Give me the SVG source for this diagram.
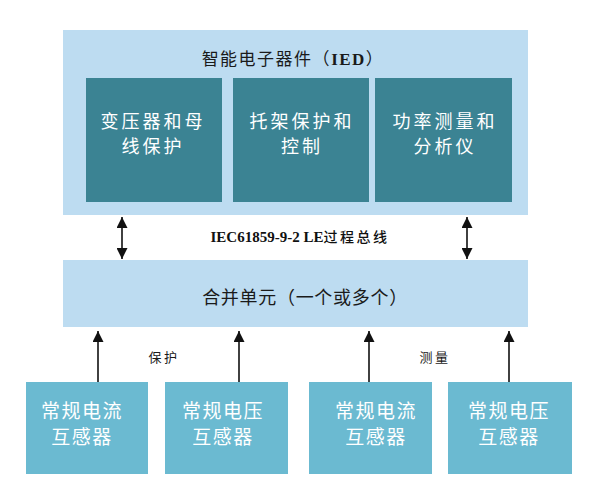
<svg xmlns="http://www.w3.org/2000/svg" width="590" height="492" viewBox="0 0 590 492">
<defs>
<style>
.outer{fill:#bddcf1}
.inner{fill:#3b8393}
.sensor{fill:#6bbad1}
.t{font-family:"Liberation Serif","Noto Sans CJK SC",sans-serif;text-anchor:middle}
.title{font-size:17px;fill:#1a1a1a;letter-spacing:1.5px}
.w{font-family:"Noto Sans CJK SC",sans-serif;fill:#ffffff;text-anchor:middle}
.inner-t{font-size:18px;letter-spacing:3px}
.sens-t{font-size:19px;letter-spacing:1.5px}
.lbl{font-family:"Noto Sans CJK SC",sans-serif;font-size:13px;fill:#1a1a1a;text-anchor:middle;letter-spacing:2.5px}
.conn{stroke:#111;stroke-width:1.6;fill:none}
</style>
<marker id="ah" viewBox="0 0 10 10" refX="10" refY="5" markerWidth="11" markerHeight="11" markerUnits="userSpaceOnUse" orient="auto-start-reverse">
<path d="M0,0 L10,5 L0,10 z" fill="#111"/>
</marker>
</defs>

<g id="ied">
<rect class="outer" x="63" y="30" width="465" height="185"/>
<text class="t title" x="293" y="65">智能电子器件（<tspan font-weight="bold">IED</tspan>）</text>
</g>
<g id="transformer-protection">
<rect class="inner" x="86" y="78" width="136" height="124"/>
<text class="w inner-t" x="153" y="128">变压器和母</text>
<text class="w inner-t" x="153" y="153">线保护</text>
</g>
<g id="bay-protection">
<rect class="inner" x="233" y="78" width="136" height="124"/>
<text class="w inner-t" x="302" y="128">托架保护和</text>
<text class="w inner-t" x="302" y="153">控制</text>
</g>
<g id="power-measurement">
<rect class="inner" x="375" y="78" width="137" height="124"/>
<text class="w inner-t" x="445" y="128">功率测量和</text>
<text class="w inner-t" x="445" y="153">分析仪</text>
</g>

<g id="merging-unit">
<rect class="outer" x="63" y="260" width="465" height="67"/>
<text class="t" x="305" y="304" style="font-family:'Noto Sans CJK SC',sans-serif;font-size:18px;fill:#1a1a1a;letter-spacing:0.7px">合并单元（一个或多个）</text>
</g>

<g id="ct1">
<rect class="sensor" x="26" y="382" width="122" height="92"/>
<text class="w sens-t" x="82" y="418">常规电流</text>
<text class="w sens-t" x="82" y="444">互感器</text>
</g>
<g id="vt1">
<rect class="sensor" x="165" y="382" width="123" height="92"/>
<text class="w sens-t" x="223" y="418">常规电压</text>
<text class="w sens-t" x="223" y="444">互感器</text>
</g>
<g id="ct2">
<rect class="sensor" x="309" y="382" width="123" height="92"/>
<text class="w sens-t" x="376" y="418">常规电流</text>
<text class="w sens-t" x="376" y="444">互感器</text>
</g>
<g id="vt2">
<rect class="sensor" x="448" y="382" width="124" height="92"/>
<text class="w sens-t" x="509" y="418">常规电压</text>
<text class="w sens-t" x="509" y="444">互感器</text>
</g>

<g id="connectors">
<line class="conn" x1="122" y1="217" x2="122" y2="259" marker-start="url(#ah)" marker-end="url(#ah)"/>
<line class="conn" x1="467" y1="217" x2="467" y2="259" marker-start="url(#ah)" marker-end="url(#ah)"/>
<line class="conn" x1="98" y1="382" x2="98" y2="331" marker-end="url(#ah)"/>
<line class="conn" x1="239" y1="382" x2="239" y2="331" marker-end="url(#ah)"/>
<line class="conn" x1="369" y1="382" x2="369" y2="331" marker-end="url(#ah)"/>
<line class="conn" x1="509" y1="382" x2="509" y2="331" marker-end="url(#ah)"/>
<text class="t" x="300" y="242" style="font-size:15px;font-weight:bold;fill:#111">IEC61859-9-2 LE<tspan style="font-family:'Noto Sans CJK SC',sans-serif;font-size:14px;font-weight:500;letter-spacing:2.5px">过程总线</tspan></text>
<text class="lbl" x="164" y="362">保护</text>
<text class="lbl" x="435" y="362">测量</text>
</g>
</svg>
